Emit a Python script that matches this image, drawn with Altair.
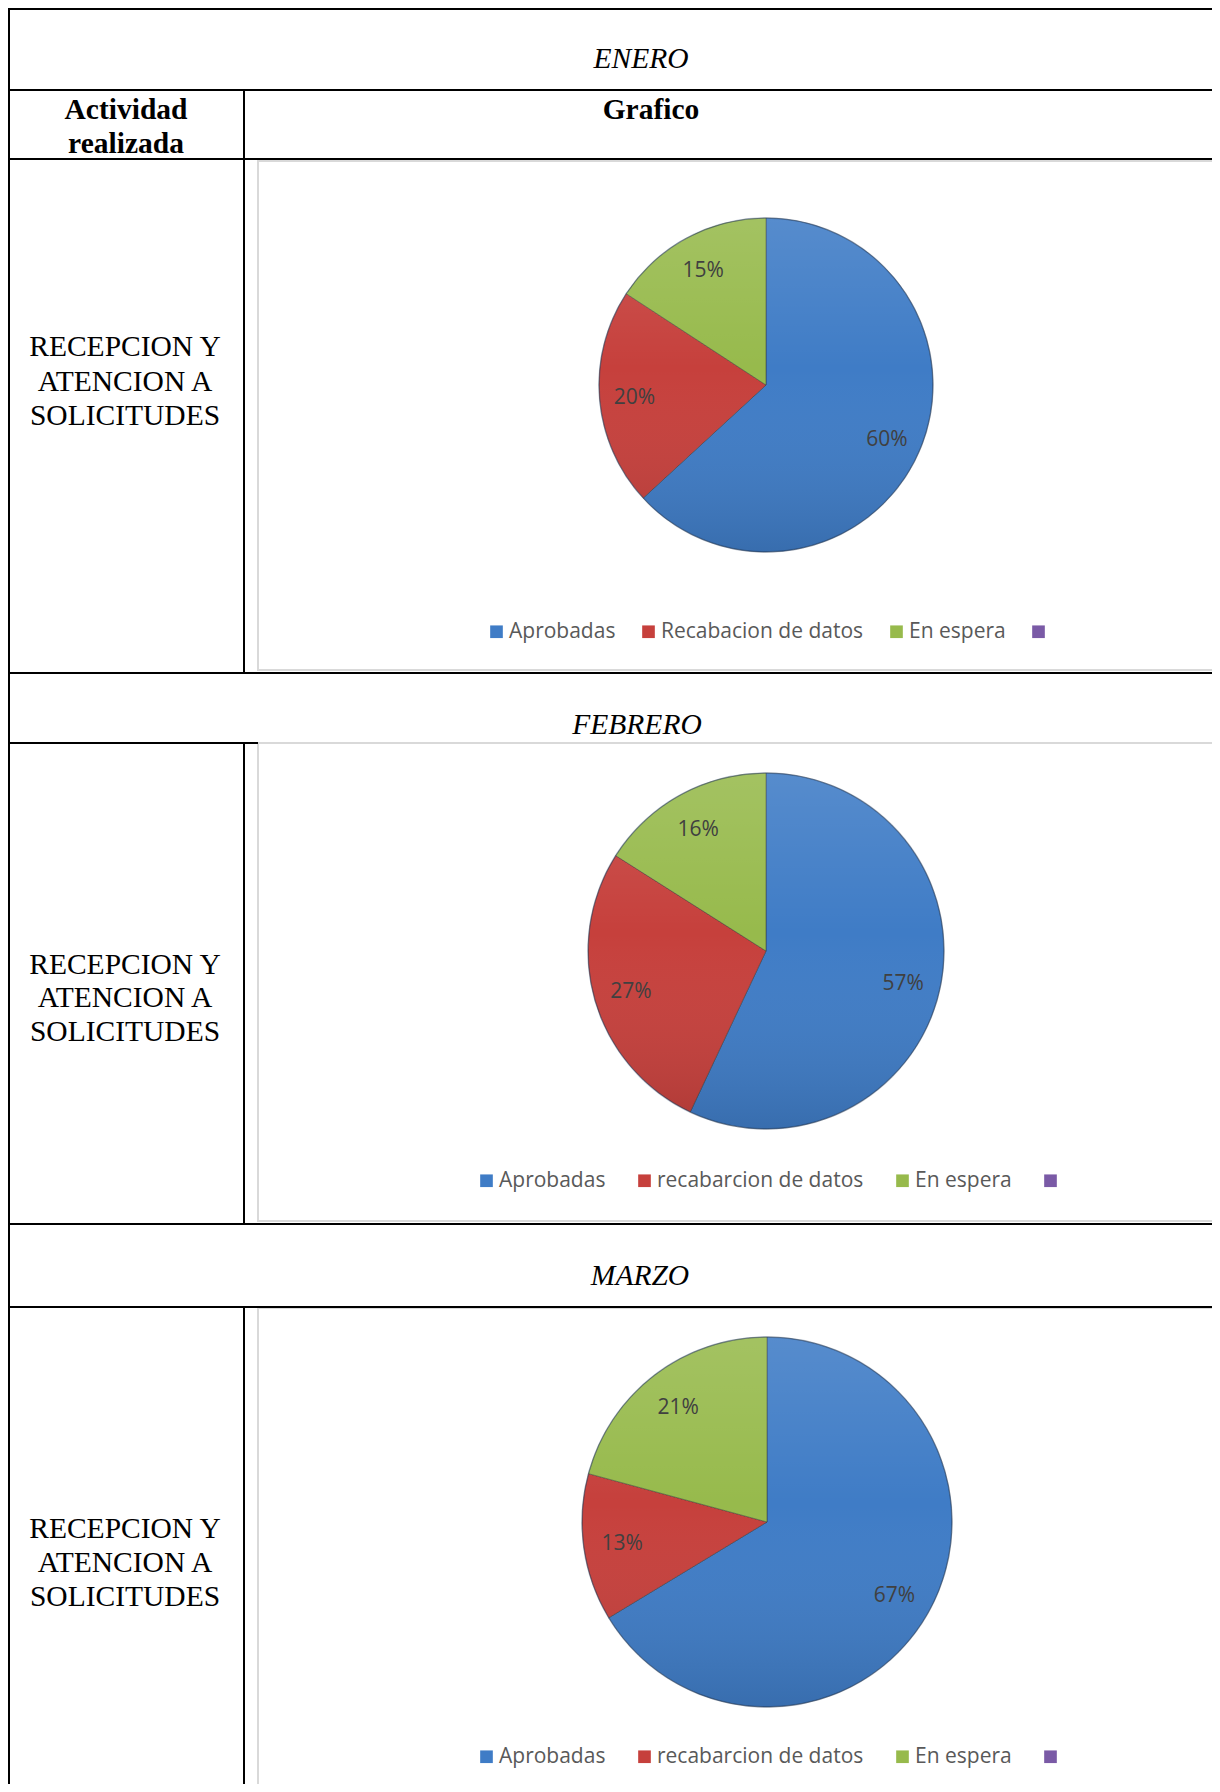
import altair as alt
import pandas as pd

# ---------------- data ----------------
months = ["ENERO", "FEBRERO", "MARZO"]
ene_cats = ["Aprobadas", "Recabacion de datos", "En espera"]
feb_cats = ["Aprobadas", "recabarcion de datos", "En espera"]
mar_cats = ["Aprobadas", "recabarcion de datos", "En espera"]
ene_values = [60, 20, 15]
feb_values = [57, 27, 16]
mar_values = [67, 13, 21]
extra_cat = "Otro"  # fourth (empty) legend entry
slice_colors = ["#3f7cc6", "#c6403c", "#97ba4c", "#7a5aa6"]

header_left = ["Actividad", "realizada"]
header_right = "Grafico"
row_label = ["RECEPCION Y", "ATENCION A", "SOLICITUDES"]

W, H = 1204, 1776

# ---------------- layout (pixels) ----------------
pies = [
    dict(cats=ene_cats, values=ene_values, cx=758, cy=377, r=167, lx=478, ly=613, pad=22),
    dict(cats=feb_cats, values=feb_values, cx=758, cy=943, r=178, lx=468, ly=1162, pad=28),
    dict(cats=mar_cats, values=mar_values, cx=759, cy=1514, r=185, lx=468, ly=1738, pad=28),
]

layers = []

# chart boxes (light gray frames)
boxes = pd.DataFrame([
    dict(x=250, x2=1240, y=153, y2=662),
    dict(x=250, x2=1240, y=735, y2=1213),
    dict(x=250, x2=1240, y=1300, y2=1820),
])
layers.append(
    alt.Chart(boxes).mark_rect(fill="white", stroke="#d9d9d9", strokeWidth=2).encode(
        x=alt.X("x:Q", scale=None, axis=None),
        x2="x2:Q",
        y=alt.Y("y:Q", scale=None, axis=None),
        y2="y2:Q",
    )
)

shade = alt.LinearGradient(
    gradient="linear", x1=0, y1=0, x2=0, y2=1,
    stops=[
        alt.GradientStop(color="rgba(255,255,255,0.12)", offset=0),
        alt.GradientStop(color="rgba(255,255,255,0.0)", offset=0.45),
        alt.GradientStop(color="rgba(0,0,0,0.12)", offset=1),
    ],
)

# pies
for p in pies:
    df = pd.DataFrame({
        "cat": p["cats"],
        "value": p["values"],
        "idx": list(range(len(p["values"]))),
        "label": [f"{v}%" for v in p["values"]],
    })
    base = alt.Chart(df).encode(
        theta=alt.Theta("value:Q", stack="normalize"),
        order=alt.Order("idx:Q"),
    )
    arc = base.mark_arc(outerRadius=p["r"], stroke="#2e2e2e", strokeOpacity=0.45, strokeWidth=1).encode(
        x=alt.value(p["cx"]),
        y=alt.value(p["cy"]),
        color=alt.Color(
            "cat:N",
            scale=alt.Scale(domain=p["cats"] + [extra_cat], range=slice_colors),
            legend=alt.Legend(
                title=None,
                orient="none",
                legendX=p["lx"],
                legendY=p["ly"],
                direction="horizontal",
                columns=4,
                columnPadding=p["pad"],
                symbolType="square",
                symbolSize=160,
                symbolStrokeWidth=0,
                labelFont="Open Sans",
                labelFontSize=21,
                labelColor="#595959",
                labelOffset=2,
                labelLimit=400,
                labelExpr="datum.label == 'Otro' ? '' : datum.label",
            ),
        ),
    )
    overlay = alt.Chart(pd.DataFrame({"k": [0]})).mark_arc(
        outerRadius=p["r"], fill=shade, stroke="#1f3f6a", strokeOpacity=0.35, strokeWidth=1.5
    ).encode(
        x=alt.value(p["cx"]),
        y=alt.value(p["cy"]),
        theta=alt.value(0),
        theta2=alt.value(6.2832),
    )
    txt = base.mark_text(
        radius=p["r"] * 0.79, font="Open Sans", fontSize=21, color="#404040"
    ).encode(
        x=alt.value(p["cx"]),
        y=alt.value(p["cy"] + 2),
        detail="cat:N",
        text="label:N",
    )
    layers += [arc, overlay, txt]

# black table lines
lines = pd.DataFrame([
    dict(x=0, x2=W, y=1, y2=1),
    dict(x=0, x2=W, y=82, y2=82),
    dict(x=0, x2=W, y=151, y2=151),
    dict(x=0, x2=W, y=665, y2=665),
    dict(x=0, x2=250, y=735, y2=735),
    dict(x=0, x2=W, y=1216, y2=1216),
    dict(x=0, x2=W, y=1299, y2=1299),
    dict(x=1, x2=1, y=0, y2=H),
    dict(x=236, x2=236, y=82, y2=665),
    dict(x=236, x2=236, y=735, y2=1216),
    dict(x=236, x2=236, y=1299, y2=H),
])
layers.append(
    alt.Chart(lines).mark_rule(color="black", strokeWidth=2).encode(
        x=alt.X("x:Q", scale=None, axis=None),
        x2="x2:Q",
        y=alt.Y("y:Q", scale=None, axis=None),
        y2="y2:Q",
    )
)

# month titles (italic)
month_df = pd.DataFrame({"t": months, "x": [633, 629, 632], "y": [51, 717, 1268]})
layers.append(
    alt.Chart(month_df).mark_text(font="Liberation Serif", fontSize=29.5, fontStyle="italic",
                                  color="black", baseline="middle").encode(
        x=alt.X("x:Q", scale=None, axis=None),
        y=alt.Y("y:Q", scale=None, axis=None),
        text="t:N",
    )
)

# header (bold)
head_df = pd.DataFrame({
    "t": header_left + [header_right],
    "x": [118, 118, 643],
    "y": [102, 136, 102],
})
layers.append(
    alt.Chart(head_df).mark_text(font="Liberation Serif", fontSize=29.5, fontWeight="bold",
                                 color="black", baseline="middle").encode(
        x=alt.X("x:Q", scale=None, axis=None),
        y=alt.Y("y:Q", scale=None, axis=None),
        text="t:N",
    )
)

# row labels (regular)
row_ys = [[339, 374, 408], [957, 990, 1024], [1521, 1555, 1589]]
row_df = pd.DataFrame({
    "t": row_label * 3,
    "x": [117] * 9,
    "y": [y for ys in row_ys for y in ys],
})
layers.append(
    alt.Chart(row_df).mark_text(font="Liberation Serif", fontSize=29.5,
                                color="black", baseline="middle").encode(
        x=alt.X("x:Q", scale=None, axis=None),
        y=alt.Y("y:Q", scale=None, axis=None),
        text="t:N",
    )
)

chart = (
    alt.layer(*layers)
    .resolve_scale(color="independent")
    .properties(width=W, height=H, autosize=alt.AutoSizeParams(type="none"), padding=0)
    .configure_view(stroke=None)
)

chart.save("out.html", embed_options={"renderer": "svg", "actions": False})
